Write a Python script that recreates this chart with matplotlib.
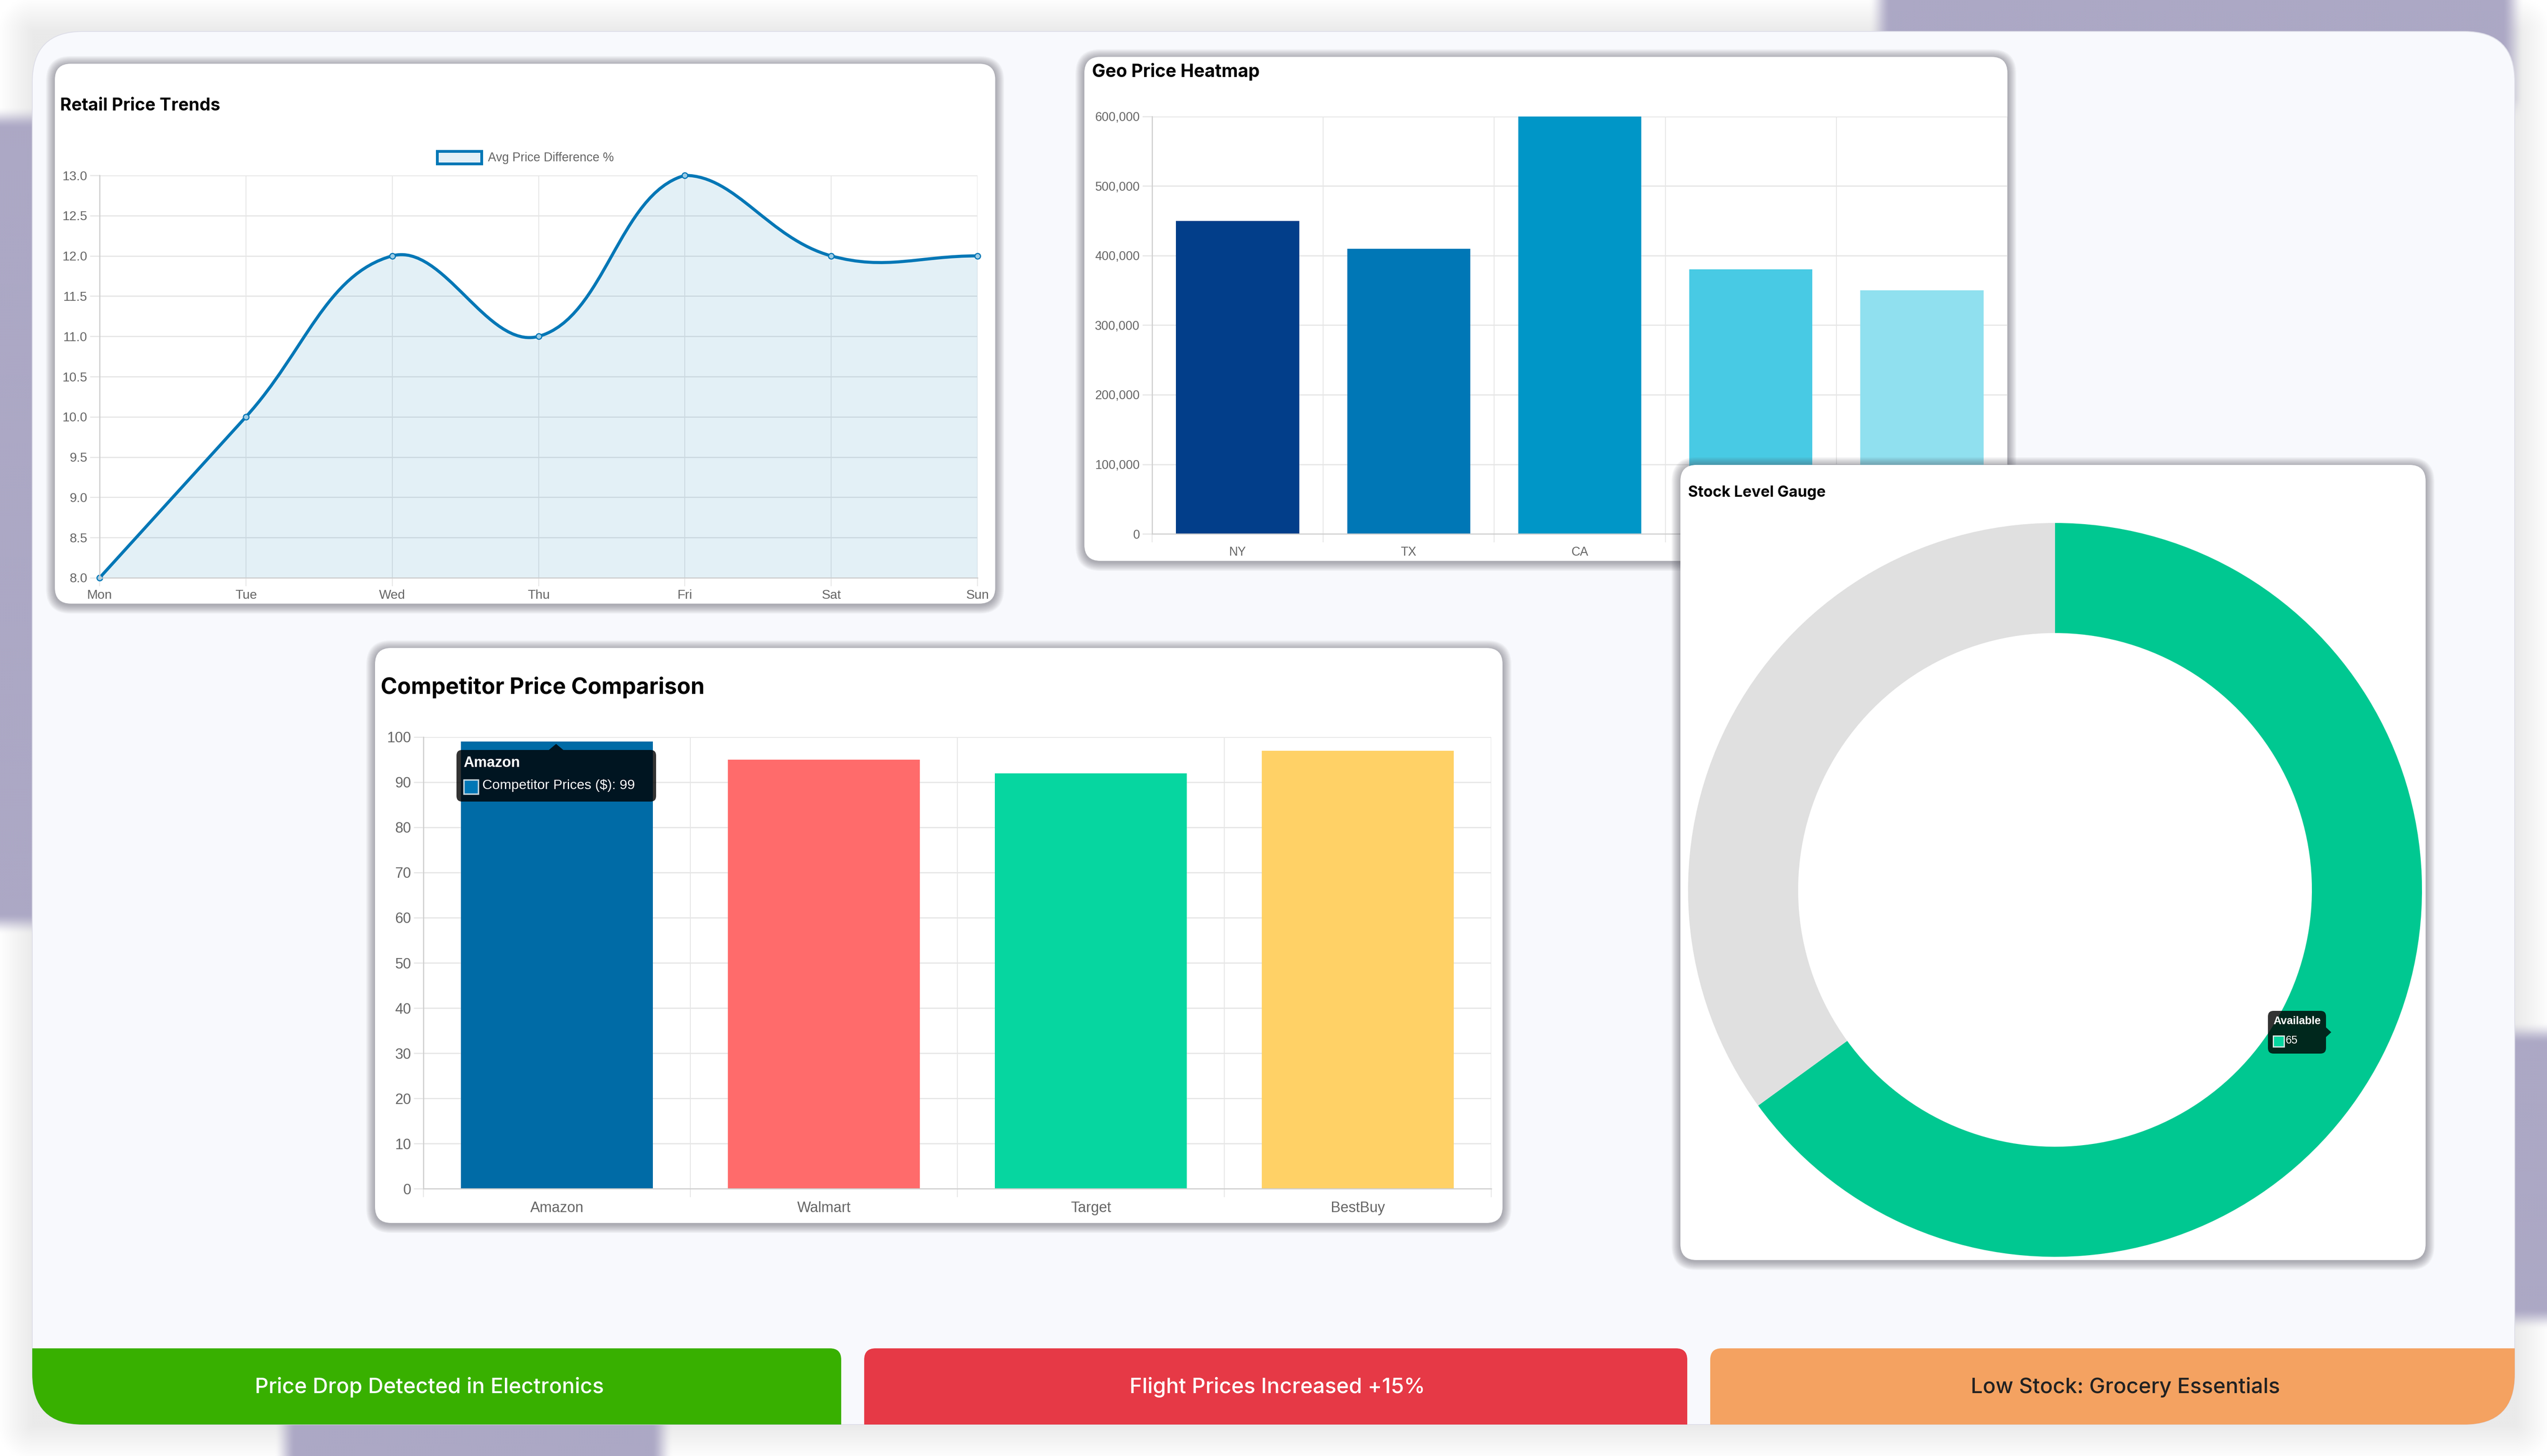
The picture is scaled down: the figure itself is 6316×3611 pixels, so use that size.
#!/usr/bin/env python3
"""Price monitoring dashboard: four chart cards and three alert banners."""
import numpy as np
import matplotlib
matplotlib.use("Agg")
import matplotlib.pyplot as plt
from matplotlib.patches import FancyBboxPatch, PathPatch, Polygon, Rectangle, Patch
from matplotlib.path import Path
from matplotlib.ticker import FuncFormatter, MultipleLocator

W, H = 6316, 3611
SANS = ["Liberation Sans", "DejaVu Sans"]
HEAD = ["Inter", "DejaVu Sans"]
plt.rcParams["font.family"] = SANS

# data
days = ["Mon", "Tue", "Wed", "Thu", "Fri", "Sat", "Sun"]
price_diff = [8, 10, 12, 11, 13, 12, 12]
regions = ["NY", "TX", "CA", "FL", "IL"]
region_prices = [450000, 410000, 600000, 380000, 350000]
region_colors = ["#023E8A", "#0077B6", "#0096C7", "#48CAE4", "#90E0EF"]
competitors = ["Amazon", "Walmart", "Target", "BestBuy"]
competitor_prices = [99, 95, 92, 97]
competitor_colors = ["#006BA6", "#FF6B6B", "#06D6A0", "#FFD166"]
stock_values = [65, 35]
stock_colors = ["#00C891", "#E0E0E0"]
alerts = ["Price Drop Detected in Electronics", "Flight Prices Increased +15%", "Low Stock: Grocery Essentials"]
alert_colors = ["#38B000", "#E63946", "#F4A261"]
alert_text = ["white", "white", "#222222"]

BLUE = "#0077B6"
GRID = "#E6E6E6"
TICK = "#666666"

fig = plt.figure(figsize=(W / 100, H / 100), dpi=100, facecolor="white")


def px_axes(x0, y0, x1, y1, z):
    ax = fig.add_axes([x0 / W, 1 - y1 / H, (x1 - x0) / W, (y1 - y0) / H], zorder=z)
    ax.patch.set_visible(False)
    return ax


def overlay(z):
    ax = px_axes(0, 0, W, H, z)
    ax.set_xlim(0, W)
    ax.set_ylim(H, 0)
    ax.axis("off")
    return ax


def card(ax, x0, y0, x1, y1, r=40):
    # soft box shadow, stacked rounded rects
    for i in range(10, 0, -1):
        g = i * 2.2
        ax.add_patch(FancyBboxPatch((x0 - g, y0 - g + 3), x1 - x0 + 2 * g, y1 - y0 + 2 * g,
                                    boxstyle=f"round,pad=0,rounding_size={r + g}",
                                    fc="#4A4A55", ec="none", alpha=0.05))
    ax.add_patch(FancyBboxPatch((x0, y0), x1 - x0, y1 - y0,
                                boxstyle=f"round,pad=0,rounding_size={r}", fc="white", ec="none"))


def style_axes(ax, tick_size):
    ax.set_axisbelow(True)
    for s in ["top", "right"]:
        ax.spines[s].set_visible(False)
    for s in ["left", "bottom"]:
        ax.spines[s].set_color("#CFCFCF")
        ax.spines[s].set_linewidth(2)
    ax.grid(True, axis="y", color=GRID, lw=2.2)
    ax.tick_params(axis="y", which="major", length=17, width=2, color=GRID, pad=5,
                   labelsize=tick_size, labelcolor=TICK)


def category_axis(ax, labels, tick_size, pad):
    # gridlines sit between categories, labels in the middle
    ax.set_xticks(range(len(labels)))
    ax.set_xticklabels(labels)
    ax.set_xticks(np.arange(len(labels) + 1) - 0.5, minor=True)
    ax.tick_params(axis="x", which="major", length=0, pad=pad, labelsize=tick_size, labelcolor=TICK)
    ax.tick_params(axis="x", which="minor", length=15, width=1.6, color=GRID)
    ax.grid(True, axis="x", which="minor", color=GRID, lw=1.6)


# page background
sy, sx = np.mgrid[0:H:4, 0:W:4]
d = np.hypot(np.maximum(np.maximum(80 - sx, sx - 6236), 0), np.maximum(np.maximum(78 - sy, sy - 3533), 0))
base = 234 + 22 * np.clip(d / 90, 0, 1)
img = np.dstack([base, base, base]).astype(float)


def blob(x0, x1, y0, y1, blur=55):
    mx = np.clip((sx - x0) / blur + 0.5, 0, 1) * np.clip((x1 - sx) / blur + 0.5, 0, 1)
    my = np.clip((sy - y0) / blur + 0.5, 0, 1) * np.clip((y1 - sy) / blur + 0.5, 0, 1)
    m = mx * my
    return m * m * (3 - 2 * m)


purple = np.array([172, 168, 197.0])
for b in [(4660, 6230, -400, 270), (-400, 150, 290, 2290), (6180, 6900, 2560, 3270), (705, 1640, 3400, 4000)]:
    m = blob(*b)[..., None]
    img = img * (1 - m) + purple * m
bg = overlay(0)
bg.imshow(img / 255, extent=(0, W, H, 0), aspect="auto", interpolation="bilinear", zorder=0)
bg.set_xlim(0, W)
bg.set_ylim(H, 0)

shell = FancyBboxPatch((80, 78), 6156, 3455, boxstyle="round,pad=0,rounding_size=125",
                       fc="#F8F9FD", ec="#DEDEE8", lw=1.5, zorder=1)
bg.add_patch(shell)

# alert banners, cut off by the rounded page shell
banner_x = [(30, 2086), (2143, 4184), (4241, 6290)]
for (x0, x1), label, c, tc in zip(banner_x, alerts, alert_colors, alert_text):
    b = FancyBboxPatch((x0, 3344), x1 - x0, 240, boxstyle="round,pad=0,rounding_size=28",
                       fc=c, ec="none", zorder=2)
    bg.add_patch(b)
    b.set_clip_path(shell)
centers = [1065, 3167, 5270]
for cx, label, tc in zip(centers, alerts, alert_text):
    bg.text(cx, 3441, label, color=tc, ha="center", va="center", fontsize=38, weight="medium",
            family=HEAD, zorder=3)

for box in [(136, 158, 2468, 1497), (2689, 141, 4978, 1391), (930, 1607, 3726, 3033)]:
    card(bg, *box)
bg.text(149, 262, "Retail Price Trends", fontsize=31, weight="bold", family=HEAD, va="center", color="black")
bg.text(2708, 178, "Geo Price Heatmap", fontsize=32, weight="bold", family=HEAD, va="center", color="black")
bg.text(944, 1705, "Competitor Price Comparison", fontsize=40, weight="bold", family=HEAD, va="center", color="black")

# Retail Price Trends
ax1 = px_axes(247, 435, 2424, 1433, 1)
style_axes(ax1, 23)
ax1.set_xlim(0, len(days) - 1)
ax1.set_ylim(8, 13)
ax1.yaxis.set_major_locator(MultipleLocator(0.5))
ax1.yaxis.set_major_formatter(FuncFormatter(lambda v, _: f"{v:.1f}"))
ax1.set_xticks(range(len(days)))
ax1.set_xticklabels(days)
ax1.grid(True, axis="x", color=GRID, lw=1.6)
ax1.tick_params(axis="x", length=15, width=1.6, color=GRID, pad=6, labelsize=23, labelcolor=TICK)

# same bezier control points Chart.js uses for tension 0.4, worked out in pixel space
xpx = np.arange(len(days)) * (2424 - 247) / (len(days) - 1)
ypx = np.array(price_diff) * (1433 - 435) / 5.0
verts = [(0, price_diff[0])]
codes = [Path.MOVETO]
ctrl_after, ctrl_before = [], []
for i in range(len(days)):
    a = max(i - 1, 0)
    b = min(i + 1, len(days) - 1)
    d01 = np.hypot(xpx[i] - xpx[a], ypx[i] - ypx[a])
    d12 = np.hypot(xpx[b] - xpx[i], ypx[b] - ypx[i])
    s = d01 + d12
    dx, dy = xpx[b] - xpx[a], ypx[b] - ypx[a]
    ctrl_before.append((xpx[i] - 0.4 * d01 / s * dx, ypx[i] - 0.4 * d01 / s * dy))
    ctrl_after.append((xpx[i] + 0.4 * d12 / s * dx, ypx[i] + 0.4 * d12 / s * dy))
to_data = lambda p: (p[0] / xpx[1], min(max(p[1] / (ypx[1] - ypx[0]) * 2, 8), 13))
for i in range(1, len(days)):
    verts += [to_data(ctrl_after[i - 1]), to_data(ctrl_before[i]), (i, price_diff[i])]
    codes += [Path.CURVE4] * 3
area = Path(verts + [(len(days) - 1, 8), (0, 8), (0, price_diff[0])],
            codes + [Path.LINETO, Path.LINETO, Path.CLOSEPOLY])
ax1.add_patch(PathPatch(area, fc=(0, 0.467, 0.714, 0.11), ec="none"))
ax1.add_patch(PathPatch(Path(verts, codes), fc="none", ec=BLUE, lw=5.5, clip_on=False))
ax1.plot(range(len(days)), price_diff, ls="none", marker="o", ms=10, mfc="#9CCBE4", mec=BLUE, mew=2, clip_on=False)
legend = ax1.legend(handles=[Patch(fc="#E3F0F7", ec=BLUE, lw=5, label="Avg Price Difference %")],
                    loc="center", bbox_to_anchor=(1303 / W, 1 - 391 / H), bbox_transform=fig.transFigure,
                    frameon=False, fontsize=22, labelcolor=TICK, handlelength=3.6, handleheight=1.2,
                    handletextpad=0.5)

# Geo Price Heatmap, runs under the gauge card
ax2 = px_axes(2857, 289, 4978, 1324, 1)
style_axes(ax2, 22)
ax2.bar(regions, region_prices, width=0.72, color=region_colors)
ax2.set_xlim(-0.5, 4.49)
ax2.set_ylim(0, 600000)
ax2.yaxis.set_major_locator(MultipleLocator(100000))
ax2.yaxis.set_major_formatter(FuncFormatter(lambda v, _: f"{int(v):,}"))
category_axis(ax2, regions, 22, 22)

# Competitor Price Comparison
ax3 = px_axes(1050, 1828, 3698, 2948, 1)
style_axes(ax3, 26)
ax3.bar(competitors, competitor_prices, width=0.72, color=competitor_colors)
ax3.set_xlim(-0.5, 3.5)
ax3.set_ylim(0, 100)
ax3.yaxis.set_major_locator(MultipleLocator(10))
category_axis(ax3, competitors, 26, 22)

# Stock Level Gauge card on top of the geo chart
top = overlay(2)
card(top, 4167, 1153, 6015, 3125)
top.text(4186, 1222, "Stock Level Gauge", fontsize=27, weight="bold", family=HEAD, va="center", color="black")
ax4 = px_axes(5096 - 910, 2207 - 910, 5096 + 910, 2207 + 910, 3)
ax4.pie(stock_values, colors=stock_colors, startangle=90, counterclock=False, radius=1,
        wedgeprops=dict(width=0.3, linewidth=0))
ax4.set_xlim(-1, 1)
ax4.set_ylim(-1, 1)

# hover tooltips
tip = overlay(4)


def tooltip(x0, y0, x1, y1, arrow):
    tip.add_patch(FancyBboxPatch((x0, y0), x1 - x0, y1 - y0, boxstyle="round,pad=0,rounding_size=14",
                                 fc="black", ec="none", alpha=0.8))
    tip.add_patch(Polygon(arrow, closed=True, fc="black", ec="none", alpha=0.8))


tooltip(1132, 1860, 1627, 1988, [(1379, 1845), (1361, 1860), (1397, 1860)])
tip.text(1149, 1893, competitors[0], color="white", fontsize=26, weight="bold", va="center")
tip.add_patch(Rectangle((1150, 1934), 36, 35, fc=BLUE, ec="#C8D8E0", lw=2.5))
tip.text(1196, 1948, f"Competitor Prices ($): {competitor_prices[0]}", color="white", fontsize=24.5, va="center")

tooltip(5624, 2507, 5768, 2613, [(5781, 2560), (5768, 2548), (5768, 2572)])
tip.text(5637, 2533, "Available", color="white", fontsize=19.5, weight="bold", va="center")
tip.add_patch(Rectangle((5637, 2569), 27, 27, fc="#06D6A0", ec="#D8E8E4", lw=2.2))
tip.text(5668, 2581, str(stock_values[0]), color="white", fontsize=19.5, va="center")

fig.savefig("out.png", dpi=100)
print("Saved out.png")
